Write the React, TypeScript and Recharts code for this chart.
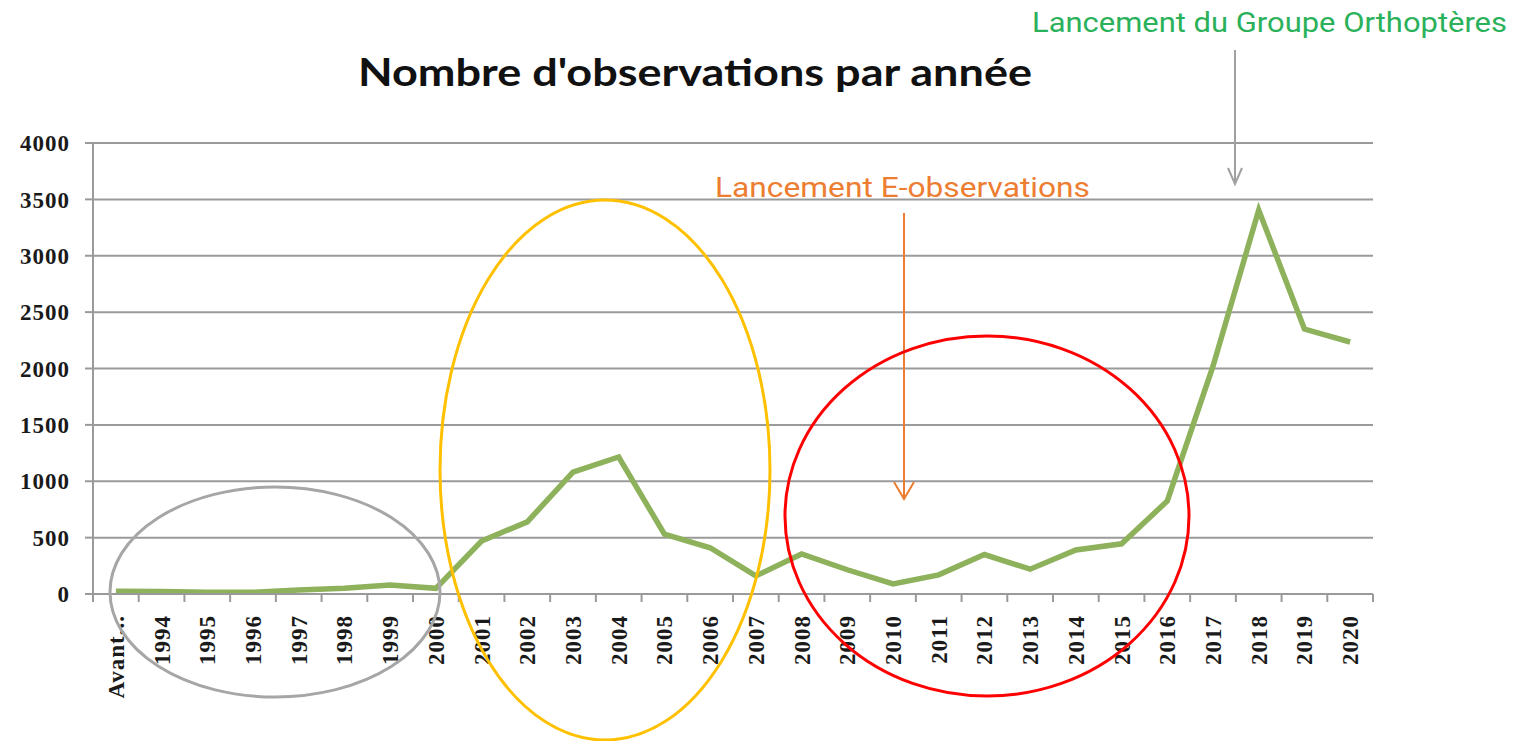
import { LineChart, Line, XAxis, YAxis, CartesianGrid } from "recharts"

const years = [
  "Avant...", "1994", "1995", "1996", "1997", "1998", "1999", "2000", "2001", "2002",
  "2003", "2004", "2005", "2006", "2007", "2008", "2009", "2010", "2011", "2012",
  "2013", "2014", "2015", "2016", "2017", "2018", "2019", "2020",
]
const observations = [
  25, 22, 15, 15, 35, 50, 80, 50, 470, 640,
  1080, 1215, 530, 410, 160, 355, 215, 90, 170, 350,
  220, 390, 445, 825, 2020, 3405, 2350, 2235,
]
const yTicks = [0, 500, 1000, 1500, 2000, 2500, 3000, 3500, 4000]

const data = years.map((year, i) => ({ year, value: observations[i] }))

const W = 1523
const H = 741
const PLOT_LEFT = 93
const PLOT_RIGHT = 1373
const PLOT_TOP = 143
const PLOT_BOTTOM = 594
const BAND = (PLOT_RIGHT - PLOT_LEFT) / years.length
const GRID = "#9a9a9a"

function YearTick(props: any) {
  const { x, index } = props
  const isLast = index === years.length - 1
  return (
    <g>
      <line x1={x - BAND / 2} x2={x - BAND / 2} y1={PLOT_BOTTOM} y2={PLOT_BOTTOM + 8} stroke={GRID} strokeWidth={2} />
      {isLast && (
        <line x1={x + BAND / 2} x2={x + BAND / 2} y1={PLOT_BOTTOM} y2={PLOT_BOTTOM + 8} stroke={GRID} strokeWidth={2} />
      )}
      <text
        transform={`translate(${x},${PLOT_BOTTOM + 21}) rotate(-90)`}
        textAnchor="end"
        dy="0.35em"
        fill="#1a1a1a"
        fontSize={23}
        fontWeight="bold"
        fontFamily="Liberation Serif"
        letterSpacing={1}
      >
        {props.payload.value}
      </text>
    </g>
  )
}

export default function App() {
  return (
    <div style={{ position: "absolute", left: 0, top: 0, width: W, height: H, background: "#fff" }}>
      <LineChart
        width={W}
        height={H}
        data={data}
        margin={{ top: PLOT_TOP, right: W - PLOT_RIGHT, bottom: 0, left: 0 }}
      >
        <CartesianGrid vertical={false} stroke={GRID} strokeWidth={2} />
        <XAxis
          dataKey="year"
          scale="band"
          interval={0}
          height={H - PLOT_BOTTOM}
          tickLine={false}
          axisLine={{ stroke: GRID, strokeWidth: 2 }}
          tick={YearTick}
        />
        <YAxis
          width={PLOT_LEFT}
          domain={[0, 4000]}
          ticks={yTicks}
          interval={0}
          tickSize={8}
          tickMargin={15}
          tickLine={{ stroke: GRID, strokeWidth: 2 }}
          axisLine={{ stroke: GRID, strokeWidth: 2 }}
          tick={{ fill: "#1a1a1a", fontSize: 23, fontWeight: "bold", fontFamily: "Liberation Serif", letterSpacing: 1 }}
        />
        <Line
          type="linear"
          dataKey="value"
          stroke="#8eb15b"
          strokeWidth={5.5}
          dot={false}
          activeDot={false}
          isAnimationActive={false}
        />
      </LineChart>

      <svg width={W} height={H} style={{ position: "absolute", left: 0, top: 0, pointerEvents: "none" }}>
        <text x={695} y={86} textAnchor="middle" fontFamily="Lato" fontWeight="bold" fontSize={38} fill="#111" textLength={674} lengthAdjust="spacingAndGlyphs">
          Nombre d'observations par année
        </text>

        {/* annotations */}
        <text x={1032} y={32} fontFamily="Roboto" fontSize={28} fill="#2ab15a" textLength={475} lengthAdjust="spacingAndGlyphs">
          Lancement du Groupe Orthoptères
        </text>
        <line x1={1235} y1={50} x2={1235} y2={183} stroke="#a0a0a0" strokeWidth={2} />
        <polyline points="1228,168 1235,184 1242,168" fill="none" stroke="#a0a0a0" strokeWidth={2} />

        <text x={715} y={197} fontFamily="Roboto" fontSize={28} fill="#ed7d31" textLength={375} lengthAdjust="spacingAndGlyphs">
          Lancement E-observations
        </text>
        <line x1={904} y1={213} x2={904} y2={498} stroke="#ed7d31" strokeWidth={2} />
        <polyline points="894,482 904,499 914,482" fill="none" stroke="#ed7d31" strokeWidth={2} />

        <ellipse cx={275} cy={592} rx={165} ry={105} fill="none" stroke="#a6a6a6" strokeWidth={3} />
        <ellipse cx={605} cy={470} rx={165} ry={270} fill="none" stroke="#ffc000" strokeWidth={3} />
        <ellipse cx={987} cy={516} rx={202} ry={180} fill="none" stroke="#ff0000" strokeWidth={3} />
      </svg>
    </div>
  )
}
